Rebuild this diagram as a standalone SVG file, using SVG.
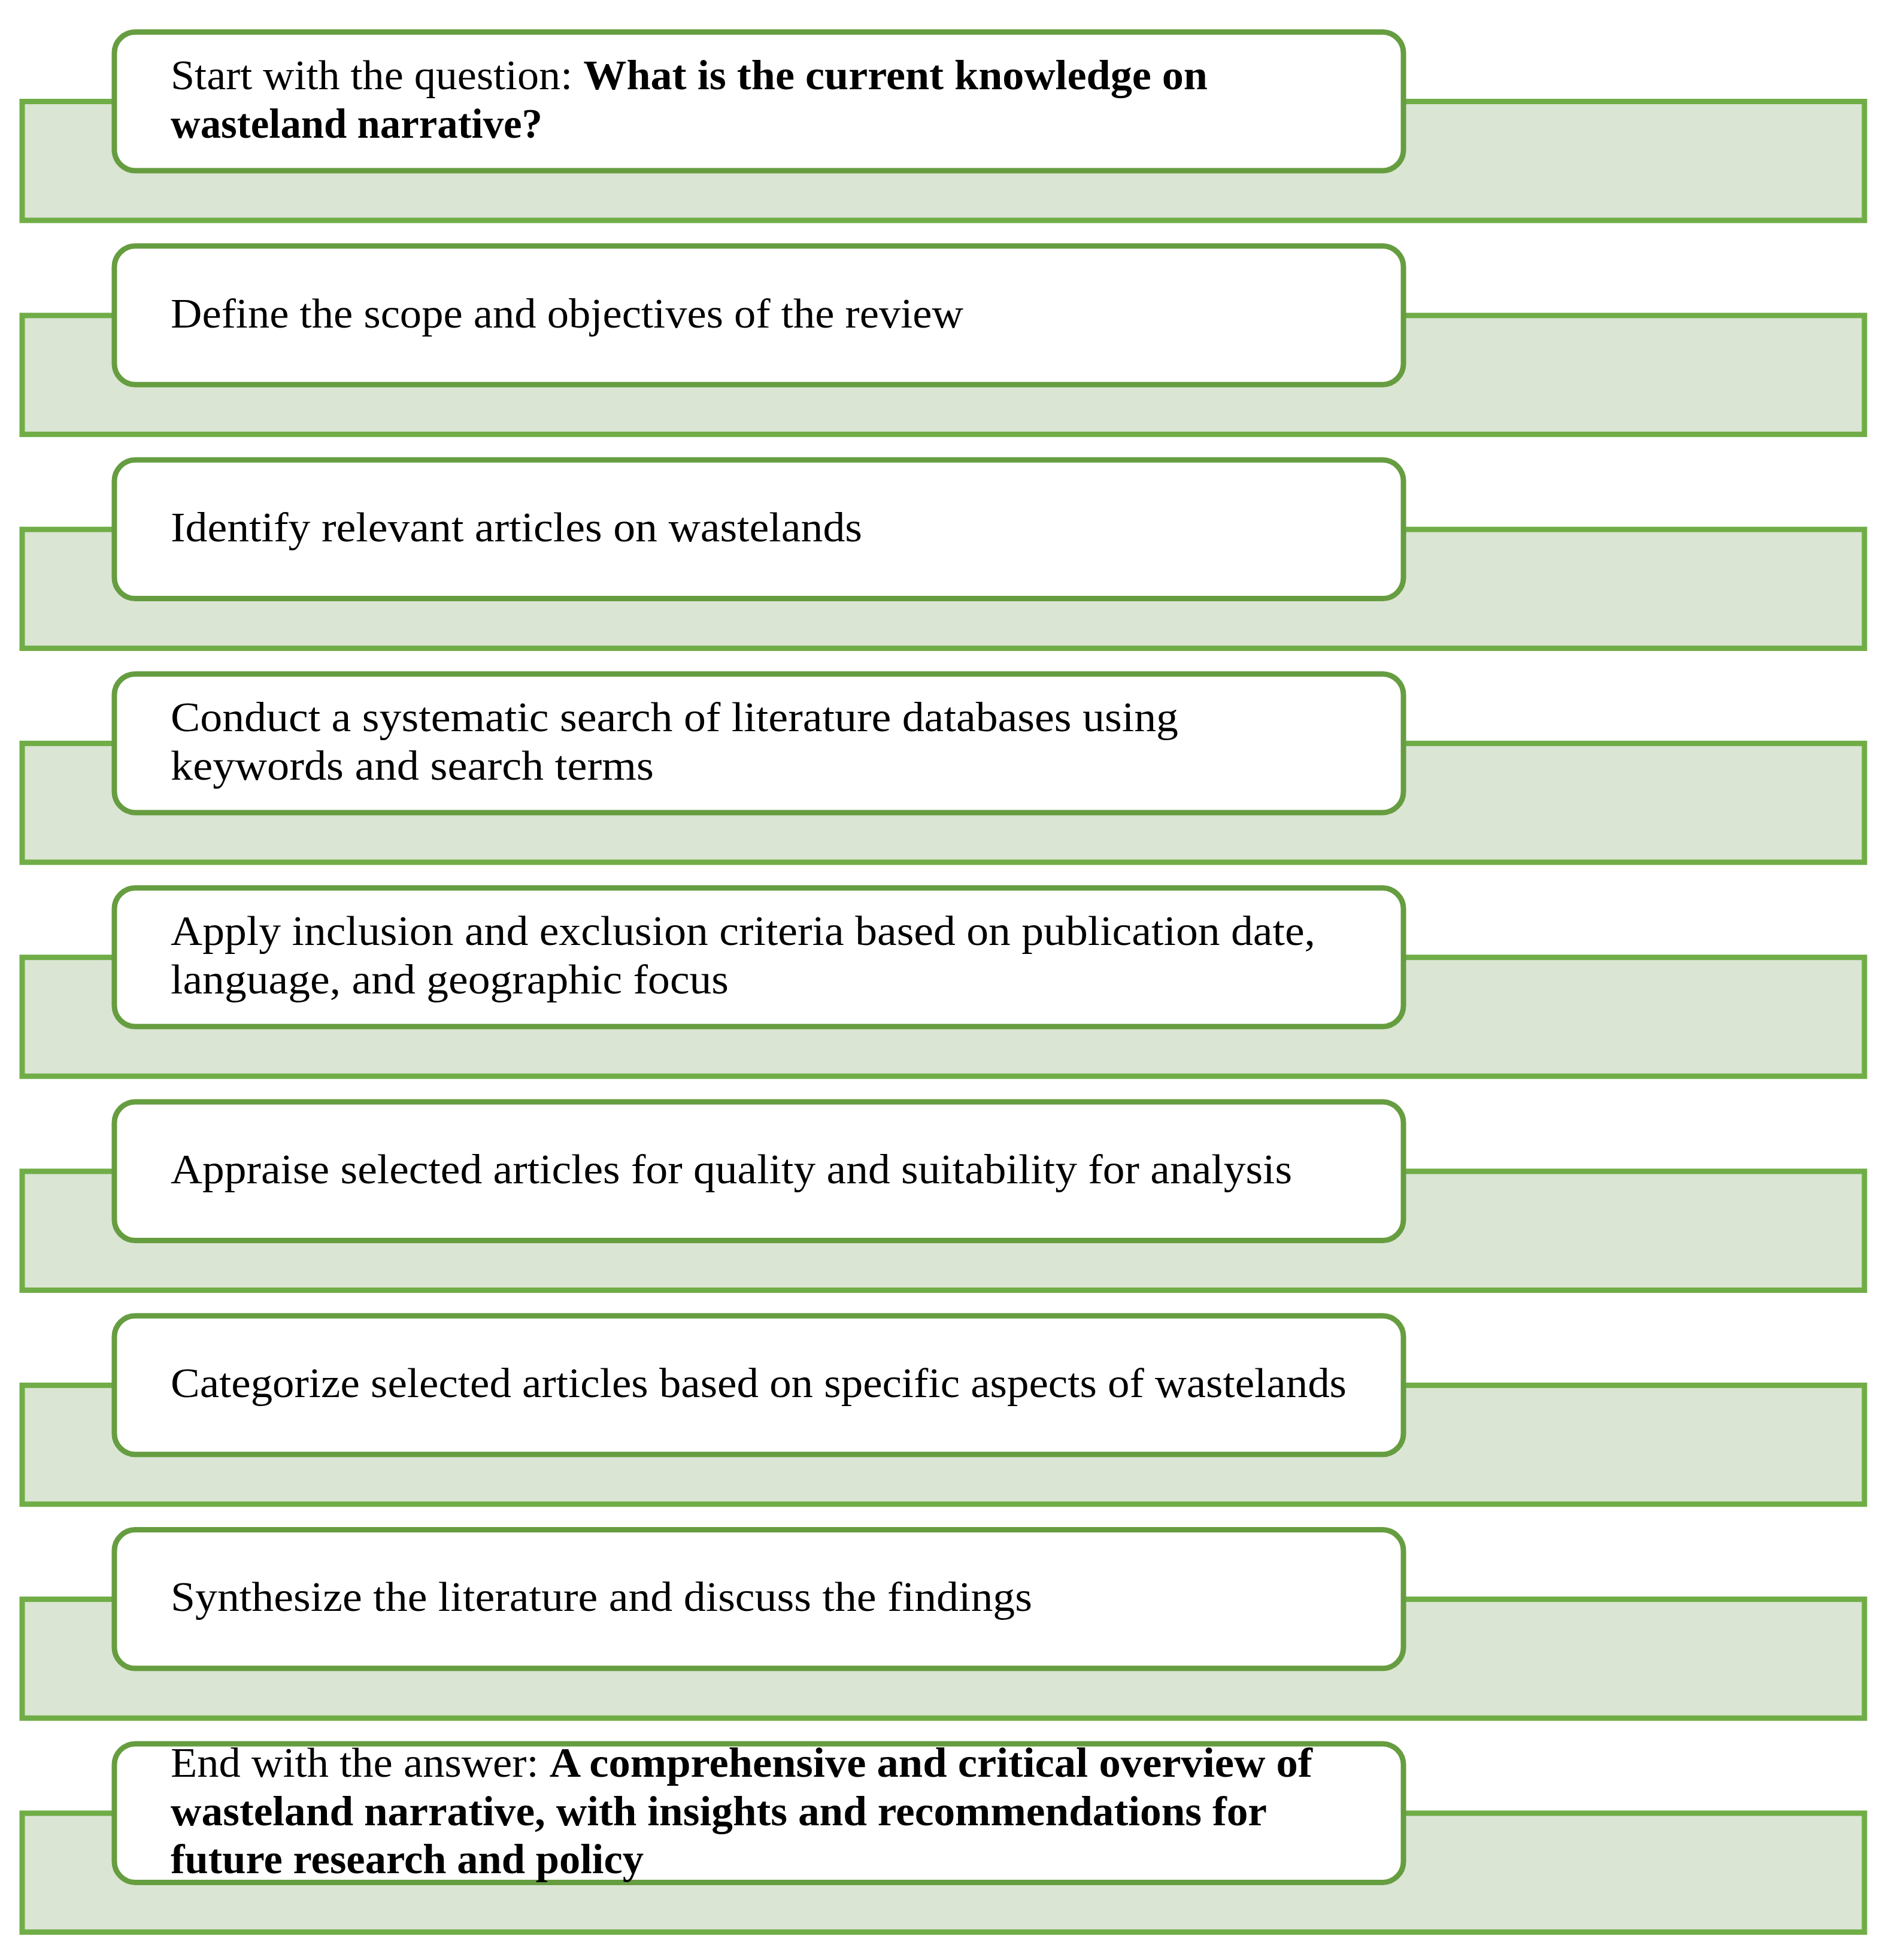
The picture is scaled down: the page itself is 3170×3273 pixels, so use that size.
<svg xmlns="http://www.w3.org/2000/svg" width="3170" height="3273" viewBox="0 0 3170 3273">
<style>
.bg{fill:#DAE5D3;stroke:#70AD47;stroke-width:9}
.card{fill:#FFFFFF;stroke:#669D40;stroke-width:9}
.t{font-family:"Liberation Serif","Times New Roman",serif;font-size:69px;fill:#000000}
.b{font-weight:bold}
</style>
<rect x="0" y="0" width="3170" height="3273" fill="#FFFFFF"/>
<g id="step1">
<rect class="bg" x="37" y="169.5" width="3077" height="198.5"/>
<rect class="card" x="191" y="53.5" width="2153" height="231.5" rx="35" ry="35"/>
<text class="t" x="285" y="149" textLength="1732" lengthAdjust="spacingAndGlyphs">Start with the question: <tspan class="b">What is the current knowledge on</tspan></text>
<text class="t b" x="285" y="230" textLength="621" lengthAdjust="spacingAndGlyphs">wasteland narrative?</text>
</g>
<g id="step2">
<rect class="bg" x="37" y="526.8" width="3077" height="198.5"/>
<rect class="card" x="191" y="410.8" width="2153" height="231.5" rx="35" ry="35"/>
<text class="t" x="285" y="547" textLength="1324" lengthAdjust="spacingAndGlyphs">Define the scope and objectives of the review</text>
</g>
<g id="step3">
<rect class="bg" x="37" y="884.1" width="3077" height="198.5"/>
<rect class="card" x="191" y="768.1" width="2153" height="231.5" rx="35" ry="35"/>
<text class="t" x="285" y="904" textLength="1155" lengthAdjust="spacingAndGlyphs">Identify relevant articles on wastelands</text>
</g>
<g id="step4">
<rect class="bg" x="37" y="1241.4" width="3077" height="198.5"/>
<rect class="card" x="191" y="1125.4" width="2153" height="231.5" rx="35" ry="35"/>
<text class="t" x="285" y="1221" textLength="1683" lengthAdjust="spacingAndGlyphs">Conduct a systematic search of literature databases using</text>
<text class="t" x="285" y="1302" textLength="807" lengthAdjust="spacingAndGlyphs">keywords and search terms</text>
</g>
<g id="step5">
<rect class="bg" x="37" y="1598.7" width="3077" height="198.5"/>
<rect class="card" x="191" y="1482.7" width="2153" height="231.5" rx="35" ry="35"/>
<text class="t" x="285" y="1578" textLength="1912" lengthAdjust="spacingAndGlyphs">Apply inclusion and exclusion criteria based on publication date,</text>
<text class="t" x="285" y="1659" textLength="932" lengthAdjust="spacingAndGlyphs">language, and geographic focus</text>
</g>
<g id="step6">
<rect class="bg" x="37" y="1956" width="3077" height="198.5"/>
<rect class="card" x="191" y="1840" width="2153" height="231.5" rx="35" ry="35"/>
<text class="t" x="285" y="1976" textLength="1873" lengthAdjust="spacingAndGlyphs">Appraise selected articles for quality and suitability for analysis</text>
</g>
<g id="step7">
<rect class="bg" x="37" y="2313.3" width="3077" height="198.5"/>
<rect class="card" x="191" y="2197.3" width="2153" height="231.5" rx="35" ry="35"/>
<text class="t" x="285" y="2333" textLength="1964" lengthAdjust="spacingAndGlyphs">Categorize selected articles based on specific aspects of wastelands</text>
</g>
<g id="step8">
<rect class="bg" x="37" y="2670.6" width="3077" height="198.5"/>
<rect class="card" x="191" y="2554.6" width="2153" height="231.5" rx="35" ry="35"/>
<text class="t" x="285" y="2690" textLength="1439" lengthAdjust="spacingAndGlyphs">Synthesize the literature and discuss the findings</text>
</g>
<g id="step9">
<rect class="bg" x="37" y="3027.9" width="3077" height="198.5"/>
<rect class="card" x="191" y="2911.9" width="2153" height="231.5" rx="35" ry="35"/>
<text class="t" x="285" y="2967" textLength="1907" lengthAdjust="spacingAndGlyphs">End with the answer: <tspan class="b">A comprehensive and critical overview of</tspan></text>
<text class="t b" x="285" y="3048" textLength="1831" lengthAdjust="spacingAndGlyphs">wasteland narrative, with insights and recommendations for</text>
<text class="t b" x="285" y="3128" textLength="790" lengthAdjust="spacingAndGlyphs">future research and policy</text>
</g>
<g id="connectors"/>
</svg>
